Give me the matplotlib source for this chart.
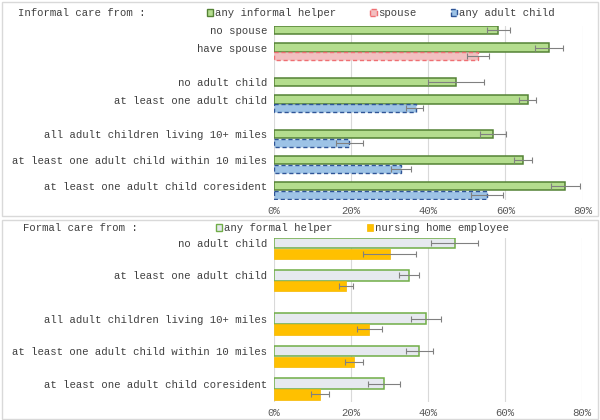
import numpy as np
import matplotlib
matplotlib.use("Agg")
import matplotlib.pyplot as plt
from matplotlib.patches import Patch, Rectangle

# ---- data (percent) ----
informal_labels = ["no spouse", "have spouse", "no adult child",
                   "at least one adult child",
                   "all adult children living 10+ miles",
                   "at least one adult child within 10 miles",
                   "at least one adult child coresident"]
any_informal = [58.1, 71.4, 47.3, 65.8, 56.9, 64.6, 75.5]
any_informal_lo = [55.2, 67.7, 40.0, 63.6, 53.5, 62.2, 71.8]
any_informal_hi = [61.2, 75.0, 54.4, 67.9, 60.2, 66.9, 79.3]

spouse_labels = ["have spouse"]
spouse = [52.9]
spouse_lo = [50.1]
spouse_hi = [55.8]

child_labels = ["at least one adult child",
                "all adult children living 10+ miles",
                "at least one adult child within 10 miles",
                "at least one adult child coresident"]
any_child = [36.7, 19.5, 32.9, 55.3]
any_child_lo = [34.3, 16.1, 30.4, 51.2]
any_child_hi = [38.6, 23.1, 35.4, 59.5]

formal_labels = ["no adult child", "at least one adult child",
                 "all adult children living 10+ miles",
                 "at least one adult child within 10 miles",
                 "at least one adult child coresident"]
any_formal = [46.9, 35.1, 39.4, 37.6, 28.6]
any_formal_lo = [40.8, 32.5, 35.5, 34.2, 24.4]
any_formal_hi = [53.0, 37.6, 43.3, 41.3, 32.7]
nursing = [30.1, 18.8, 24.6, 20.7, 12.0]
nursing_lo = [23.1, 17.0, 21.5, 18.5, 9.7]
nursing_hi = [36.8, 20.5, 28.1, 23.1, 14.3]

xticks = [0, 20, 40, 60, 80]

# ---- layout ----
informal_pos = [1, 3, 7, 9, 13, 16, 19]
formal_pos = [1, 4, 8, 11, 14]
BAR_H = 0.96

FONT = "Liberation Mono"
FS = 7.7
TXT = "#404040"
TICK = "#595959"
ERR = "#808080"

plt.rcParams["font.family"] = [FONT, "DejaVu Sans Mono"]
plt.rcParams["font.size"] = FS

W, H = 600, 420
fig = plt.figure(figsize=(6, 4.2), dpi=100)


def fx(px):
    return px / W


def fy(py):
    return 1 - py / H


def err(v, lo, hi):
    v, lo, hi = map(np.asarray, (v, lo, hi))
    return [v - lo, hi - v]


def style_axes(ax, ytop):
    ax.set_xlim(0, 80)
    ax.set_ylim(ytop, 0)
    ax.set_xticks(xticks)
    ax.set_xticklabels([f"{t}%" for t in xticks], color=TICK, fontsize=FS)
    ax.tick_params(axis="both", length=0, pad=4)
    ax.tick_params(axis="y", pad=5)
    ax.grid(axis="x", color="#d9d9d9", linewidth=0.8)
    ax.set_axisbelow(True)
    for s in ax.spines.values():
        s.set_visible(False)


ebar_kw = dict(ecolor=ERR, elinewidth=0.8, capsize=2.5, capthick=0.8)

# panel borders
for y0, y1 in [(1.5, 216), (219.5, 418.5)]:
    fig.add_artist(Rectangle((fx(1.5), fy(y1)), fx(596), (y1 - y0) / H,
                             transform=fig.transFigure, fill=False,
                             edgecolor="#d9d9d9", linewidth=1))

# ---- top panel: informal care ----
ax1 = fig.add_axes([fx(274), fy(200), fx(308.5), 174 / H])
pos = {lab: p for lab, p in zip(informal_labels, informal_pos)}
y_green = [p - 0.5 for p in informal_pos]
ax1.barh(y_green, any_informal, height=BAR_H, color="#b4dd8e",
         edgecolor="#548235", linewidth=1.1,
         xerr=err(any_informal, any_informal_lo, any_informal_hi), error_kw=ebar_kw)
ax1.barh([pos[l] + 0.5 for l in spouse_labels], spouse, height=BAR_H,
         color="#f2bfc0", edgecolor="#ef6f73", linewidth=1.0, linestyle=(0, (3, 2)),
         xerr=err(spouse, spouse_lo, spouse_hi), error_kw=ebar_kw)
ax1.barh([pos[l] + 0.5 for l in child_labels], any_child, height=BAR_H,
         color="#9dc3e6", edgecolor="#2f5597", linewidth=1.0, linestyle=(0, (3, 2)),
         xerr=err(any_child, any_child_lo, any_child_hi), error_kw=ebar_kw)
style_axes(ax1, 20.1)
ax1.set_yticks(y_green)
ax1.set_yticklabels(informal_labels, color=TXT, fontsize=FS)

fig.text(fx(18), fy(13), "Informal care from :", color=TXT, fontsize=FS, va="center")
h1 = [Patch(facecolor="#b4dd8e", edgecolor="#548235", linewidth=1.0),
      Patch(facecolor="#f2bfc0", edgecolor="#ef6f73", linewidth=1.0, linestyle="--"),
      Patch(facecolor="#9dc3e6", edgecolor="#2f5597", linewidth=1.0, linestyle="--")]
fig.legend(h1, ["any informal helper", "spouse", "any adult child"],
           loc="center left", bbox_to_anchor=(fx(207), fy(13)), ncol=3,
           frameon=False, borderpad=0, borderaxespad=0, handlelength=0.6,
           handleheight=0.6, handletextpad=0.15, columnspacing=3.2,
           labelcolor=TXT, fontsize=FS)

# ---- bottom panel: formal care ----
ax2 = fig.add_axes([fx(274), fy(402), fx(308), 164.5 / H])
y_gray = [p - 0.5 for p in formal_pos]
y_orange = [p + 0.5 for p in formal_pos]
ax2.barh(y_gray, any_formal, height=BAR_H, color="#e6e9ef",
         edgecolor="#70ad47", linewidth=1.1,
         xerr=err(any_formal, any_formal_lo, any_formal_hi), error_kw=ebar_kw)
ax2.barh(y_orange, nursing, height=BAR_H, color="#ffc000",
         edgecolor="#f5b800", linewidth=0.5,
         xerr=err(nursing, nursing_lo, nursing_hi), error_kw=ebar_kw)
style_axes(ax2, 15.2)
ax2.set_yticks(y_gray)
ax2.set_yticklabels(formal_labels, color=TXT, fontsize=FS)

fig.text(fx(23), fy(228.5), "Formal care from :", color=TXT, fontsize=FS, va="center")
h2 = [Patch(facecolor="#e6e9ef", edgecolor="#70ad47", linewidth=1.0),
      Patch(facecolor="#ffc000", edgecolor="#f5b800", linewidth=0.5)]
fig.legend(h2, ["any formal helper", "nursing home employee"],
           loc="center left", bbox_to_anchor=(fx(216), fy(228.5)), ncol=2,
           frameon=False, borderpad=0, borderaxespad=0, handlelength=0.6,
           handleheight=0.6, handletextpad=0.15, columnspacing=3.2,
           labelcolor=TXT, fontsize=FS)

fig.savefig("out.png", dpi=100)
